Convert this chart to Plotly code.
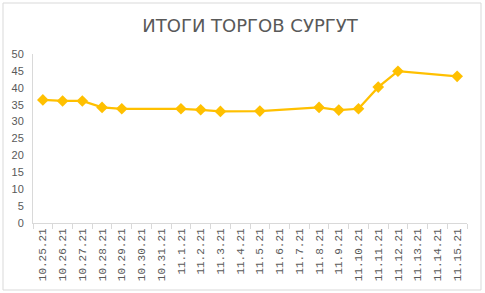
import plotly.graph_objects as go

dates = ["10.25.21", "10.26.21", "10.27.21", "10.28.21", "10.29.21", "10.30.21", "10.31.21",
         "11.1.21", "11.2.21", "11.3.21", "11.4.21", "11.5.21", "11.6.21", "11.7.21",
         "11.8.21", "11.9.21", "11.10.21", "11.11.21", "11.12.21", "11.13.21", "11.14.21", "11.15.21"]
prices = [36.4, 36.1, 36.1, 34.2, 33.8, None, None,
          33.8, 33.5, 33.0, None, 33.1, None, None,
          34.2, 33.4, 33.8, 40.2, 44.9, None, None, 43.4]
y_ticks = [0, 5, 10, 15, 20, 25, 30, 35, 40, 45, 50]

L, R, T, B = 33, 18, 54, 70
W, H = 485, 293
pw, ph = W - L - R, H - T - B

fig = go.Figure()
fig.add_trace(go.Scatter(
    x=dates, y=prices, mode="lines+markers", connectgaps=True,
    line=dict(color="#FFC000", width=2.25),
    marker=dict(symbol="diamond", size=9, color="#FFC000"),
    showlegend=False, hoverinfo="x+y"))

fig.update_layout(
    width=W, height=H,
    margin=dict(l=L, r=R, t=T, b=B),
    paper_bgcolor="white", plot_bgcolor="white",
    title=dict(text="ИТОГИ ТОРГОВ СУРГУТ", x=0.5, xref="paper", xanchor="center",
               y=1 - 26 / H, yanchor="middle",
               font=dict(family="DejaVu Sans", size=18, color="#595959")),
    xaxis=dict(type="category", categoryorder="array", categoryarray=dates,
               showgrid=False, showline=True, linecolor="#D9D9D9", linewidth=1,
               ticks="outside", tickson="boundaries", ticklen=5, tickcolor="#D9D9D9",
               tickangle=-90, tickfont=dict(family="Liberation Mono", size=11, color="#595959"),
               range=[-0.5, len(dates) - 0.5], zeroline=False),
    yaxis=dict(range=[0, 50], tickvals=y_ticks, showgrid=False, zeroline=False,
               showline=True, linecolor="#D9D9D9", linewidth=1, ticks="",
               ticklabelstandoff=6,
               tickfont=dict(family="Liberation Sans", size=11, color="#595959")),
    shapes=[dict(type="rect", xref="paper", yref="paper",
                 x0=(3 - L) / pw, x1=(481 - L) / pw,
                 y0=-(290 - (H - B)) / ph, y1=((H - B) - 3) / ph,
                 line=dict(color="#D9D9D9", width=1), fillcolor="rgba(0,0,0,0)", layer="below")],
)

fig.write_html("out.html")
